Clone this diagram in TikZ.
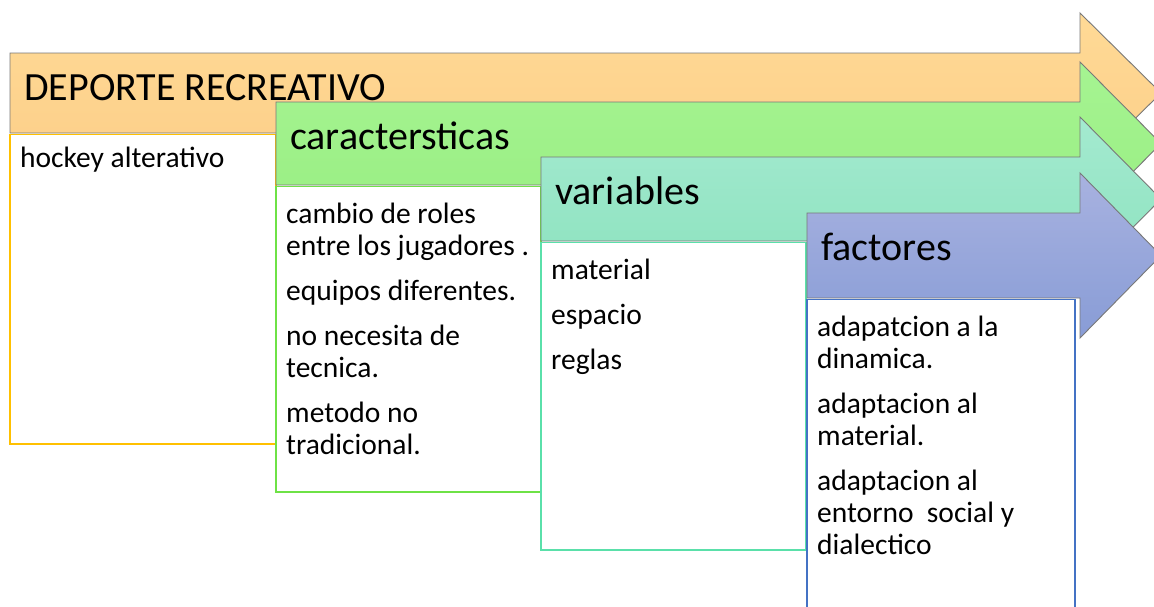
\documentclass[tikz,border=0pt]{standalone}
\usepackage{fontspec}
\setmainfont{Carlito}

\definecolor{deporte-top}{RGB}{255,218,150}
\definecolor{deporte-bot}{RGB}{252,206,136}
\definecolor{deporte-line}{RGB}{255,192,0}
\definecolor{caract-top}{RGB}{166,244,146}
\definecolor{caract-bot}{RGB}{152,238,130}
\definecolor{caract-line}{RGB}{110,226,70}
\definecolor{variab-top}{RGB}{164,234,208}
\definecolor{variab-bot}{RGB}{140,226,190}
\definecolor{variab-line}{RGB}{90,224,170}
\definecolor{factor-top}{RGB}{168,178,224}
\definecolor{factor-bot}{RGB}{136,156,214}
\definecolor{factor-line}{RGB}{68,114,196}
\definecolor{contorno}{RGB}{120,120,120}

\begin{document}
\begin{tikzpicture}[x=1pt,y=-1pt,
                    etapa/.style={draw=contorno, line width=0.9pt, line join=miter},
                    caja/.style={line width=1.3pt, fill=white},
                    titulo/.style={anchor=base west, inner sep=0pt, font=\fontsize{40}{44}\selectfont},
                    lista/.style={anchor=base west, inner sep=0pt, align=left, font=\fontsize{29.5}{32}\selectfont}]
    \useasboundingbox (0,0) rectangle (1154,606);
    \clip (0,0) rectangle (1154,606);
    \fill[white] (0,0) rectangle (1154,606);
    \foreach \nom/\L/\T/\B/\R/\F/\texto in {
        deporte/10/53/133/276/444/{DEPORTE RECREATIVO},
        caract/276/102/185/541/492/{caractersticas},
        variab/541/157/241/806/550/{variables},
        factor/807/213/298/1075/612/{factores}}
    {
        \draw[caja, draw=\nom-line] (\L,\B+1.5) rectangle (\R,\F);
        \draw[etapa, top color=\nom-top, bottom color=\nom-bot]
            (\L,\T) -- (1080,\T) -- (1080,\T-40) -- (1161,{(\T+\B)/2})
            -- (1080,\B+40) -- (1080,\B) -- (\L,\B) -- cycle;
        \node[titulo] (t-\nom) at (\L+14,\T+47) {\texto};
    }
    % base = last line
    \node[lista] (l-deporte) at (20,167) {hockey alterativo};
    \node[lista] (l-caract) at (286,454) {cambio de roles\\entre los jugadores .\\[13pt]
        equipos diferentes.\\[13pt]no necesita de\\tecnica.\\[13pt]metodo no\\tradicional.};
    \node[lista] (l-variab) at (551,369) {material\\[13pt]espacio\\[13pt]reglas};
    \node[lista] (l-factor) at (817,554) {adapatcion a la\\dinamica.\\[13pt]adaptacion al\\material.\\[13pt]
        adaptacion al\\entorno~ social y\\dialectico};
\end{tikzpicture}
\end{document}
